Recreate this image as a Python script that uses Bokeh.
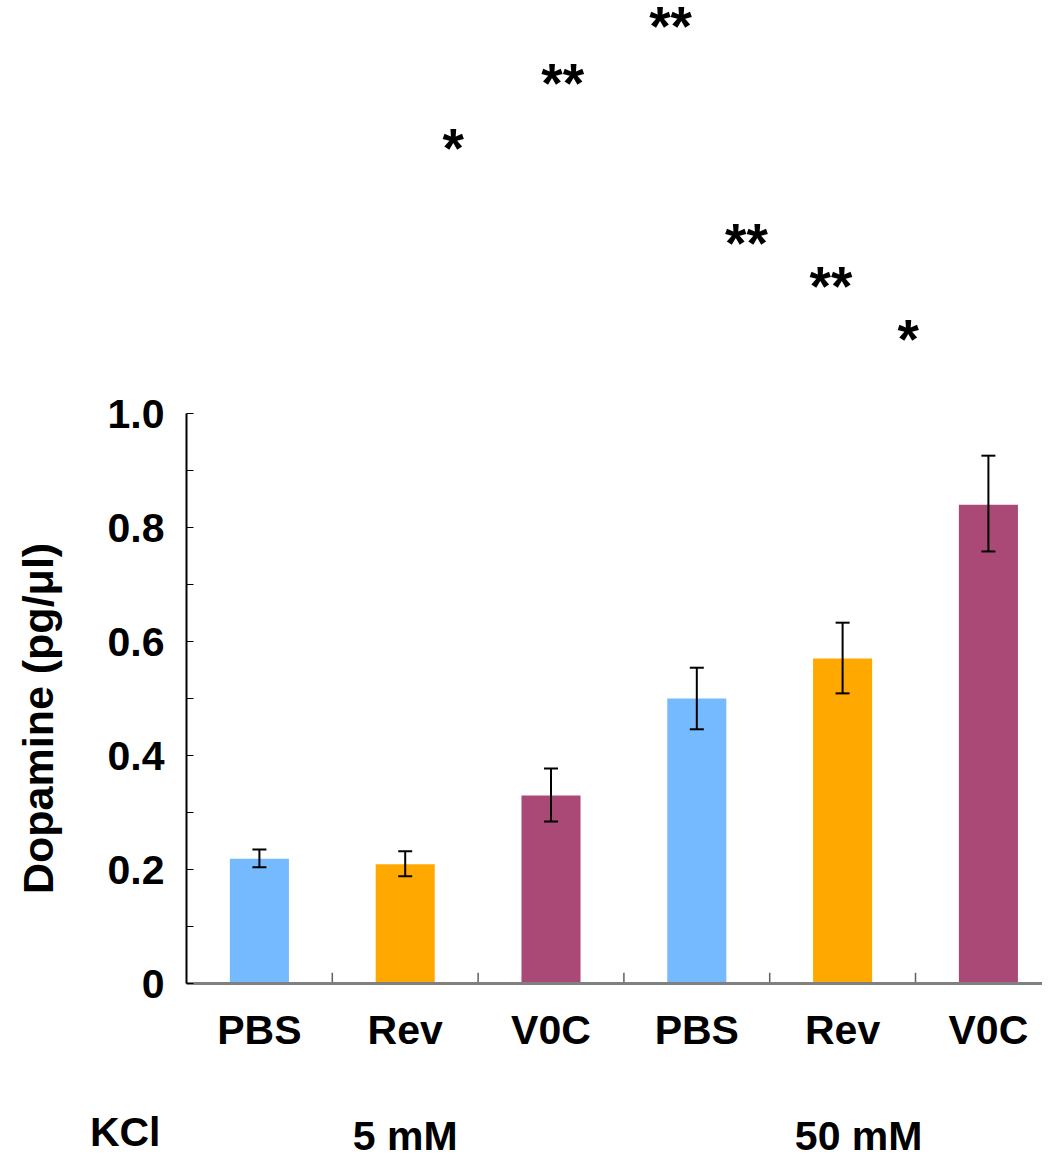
from bokeh.plotting import figure
from bokeh.layouts import column
from bokeh.models import Range1d, FixedTicker, ColumnDataSource, Whisker, LinearAxis
from bokeh.core.properties import value
from bokeh.embed import file_html
from bokeh.resources import INLINE

# ---- data ----
categories = ["PBS", "Rev", "V0C", "PBS", "Rev", "V0C"]
means = [0.219, 0.209, 0.330, 0.500, 0.570, 0.840]
upper = [0.235, 0.232, 0.377, 0.554, 0.633, 0.926]
lower = [0.204, 0.188, 0.284, 0.446, 0.509, 0.758]
colors = ["#75B9FE", "#FFA800", "#AA4876", "#75B9FE", "#FFA800", "#AA4876"]
sig_text = ["*", "**", "**", "**", "**", "*"]
sig_x = [1.83, 2.58, 3.32, 3.84, 4.42, 4.95]
sig_y = [1.466, 1.580, 1.680, 1.300, 1.224, 1.131]
group_title = "KCl"
group_names = ["5 mM", "50 mM"]
group_x = [1.50, 4.61]
y_ticks = [0.0, 0.2, 0.4, 0.6, 0.8, 1.0]
y_minor = [0.1, 0.3, 0.5, 0.7, 0.9]
y_title = "Dopamine (pg/μl)"
y_title_pos = 0.465

FONT = "Liberation Sans"
LABEL_SIZE = "41px"

xs = [i + 0.5 for i in range(len(categories))]
src = ColumnDataSource(dict(x=xs, top=means, upper=upper, lower=lower, color=colors))

X_END = 5.871
x_range = Range1d(0, X_END)
p = figure(width=1042, height=1100, output_backend="svg", toolbar_location=None,
           x_range=x_range, y_range=Range1d(0, 983 / 570),
           min_border_left=186, min_border_right=0, min_border_top=0, min_border_bottom=117)
p.outline_line_color = None
p.xgrid.grid_line_color = None
p.ygrid.grid_line_color = None

p.vbar(x="x", top="top", width=0.405, bottom=0, color="color", line_color=None, source=src)

w = Whisker(base="x", upper="upper", lower="lower", source=src, line_color="black",
            line_width=2, level="overlay")
for head in (w.upper_head, w.lower_head):
    head.size = 14
    head.line_width = 2
    head.line_color = "black"
p.add_layout(w)

# category separators (inward ticks on x axis)
seps = list(range(1, len(categories)))
p.segment(x0=seps, x1=seps, y0=[0] * len(seps), y1=[0.019] * len(seps),
          line_color="#606060", line_width=1.5)

# x axis
xa = p.xaxis[0]
xa.ticker = FixedTicker(ticks=xs)
xa.major_label_overrides = {x: c for x, c in zip(xs, categories)}
xa.major_tick_line_color = None
xa.minor_tick_line_color = None
xa.axis_line_color = "#808080"
xa.axis_line_width = 3
xa.major_label_text_font = FONT
xa.major_label_text_font_style = "bold"
xa.major_label_text_font_size = LABEL_SIZE
xa.major_label_text_color = "black"
xa.major_label_standoff = 17

# y axis
ya = p.yaxis[0]
ya.bounds = (0, 1.0)
ya.ticker = FixedTicker(ticks=y_ticks, minor_ticks=y_minor)
ya.major_label_overrides = {0.0: "0", 0.2: "0.2", 0.4: "0.4", 0.6: "0.6", 0.8: "0.8", 1.0: "1.0"}
ya.axis_line_color = "black"
ya.axis_line_width = 2
ya.major_tick_in = 7
ya.major_tick_out = 0
ya.minor_tick_in = 7
ya.minor_tick_out = 0
ya.major_tick_line_color = "black"
ya.minor_tick_line_color = "black"
ya.major_label_text_font = FONT
ya.major_label_text_font_style = "bold"
ya.major_label_text_font_size = LABEL_SIZE
ya.major_label_text_color = "black"
ya.major_label_standoff = 22

# y title as a label-only axis so it can be centred where the reference puts it
yt = LinearAxis(ticker=FixedTicker(ticks=[y_title_pos]),
                major_label_overrides={y_title_pos: y_title})
yt.axis_line_color = None
yt.major_tick_line_color = None
yt.minor_tick_line_color = None
yt.major_label_orientation = "vertical"
yt.major_label_text_font = FONT
yt.major_label_text_font_style = "bold"
yt.major_label_text_font_size = "43px"
yt.major_label_text_color = "black"
yt.major_label_standoff = 36
p.add_layout(yt, "left")

# significance stars
p.text(x=sig_x, y=sig_y, text=sig_text, text_font=value(FONT), text_font_style="bold",
       text_font_size="55px", text_align="center", text_baseline="middle", text_color="black")

# group labels row
G_H = 56
label_y = 1 - 35 / G_H
g = figure(width=1042, height=G_H, output_backend="svg", toolbar_location=None,
           x_range=x_range, y_range=Range1d(0, 1),
           min_border_left=186, min_border_right=0, min_border_top=0, min_border_bottom=0,
           x_axis_type=None)
g.outline_line_color = None
g.xgrid.grid_line_color = None
g.ygrid.grid_line_color = None
ga = g.yaxis[0]
ga.ticker = FixedTicker(ticks=[label_y])
ga.major_label_overrides = {label_y: group_title}
ga.axis_line_color = None
ga.major_tick_line_color = None
ga.minor_tick_line_color = None
ga.major_label_text_font = FONT
ga.major_label_text_font_style = "bold"
ga.major_label_text_font_size = LABEL_SIZE
ga.major_label_text_color = "black"
ga.major_label_standoff = 20
g.text(x=group_x, y=[label_y] * len(group_x), text=group_names, text_font=value(FONT),
       text_font_style="bold", text_font_size=LABEL_SIZE, text_align="center",
       text_baseline="middle", text_color="black")

layout = column(p, g, spacing=0)
open("out.html", "w").write(file_html(layout, INLINE))
